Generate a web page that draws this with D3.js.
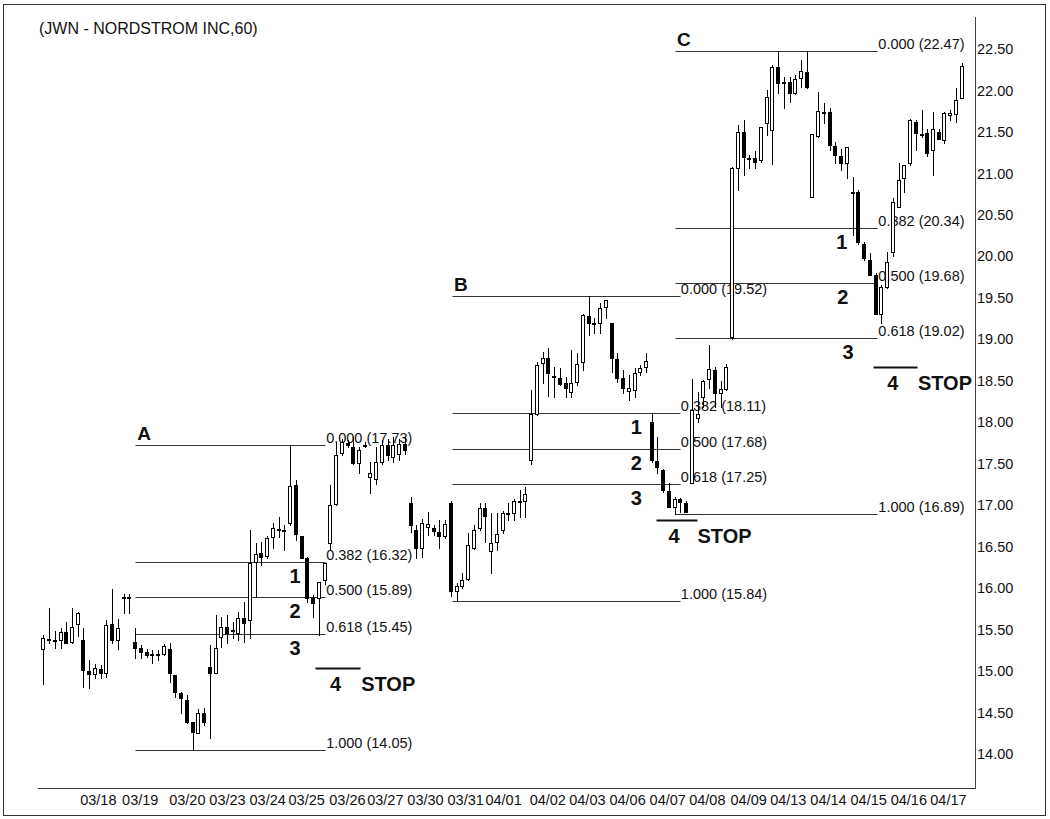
<!DOCTYPE html>
<html>
<head>
  <meta charset="UTF-8" />
  <title>JWN - Nordstrom Inc, 60 min</title>
  <style>
    body { margin: 0; background: #fff; }
    svg { display: block; font-family: "Liberation Sans", Arial, Helvetica, sans-serif; }
  </style>
  <script src="https://d3js.org/d3.v7.min.js"></script>
</head>
<body>
<script>
  /* hourly bars, [open, high, low, close] */
  let ohlc = [
    [15.27,15.43,14.84,15.40],[15.38,15.76,15.34,15.39],[15.38,15.48,15.28,15.38],[15.37,15.52,15.28,15.47],
    [15.47,15.59,15.34,15.34],[15.35,15.76,15.34,15.53],[15.57,15.71,15.42,15.70],[15.37,15.52,14.81,15.01],
    [15.00,15.13,14.80,14.96],[14.96,15.09,14.92,15.04],[15.03,15.07,14.92,14.98],[14.98,15.62,14.93,15.56],
    [15.57,15.99,15.34,15.38],[15.38,15.63,15.27,15.52],[15.88,15.93,15.70,15.89],[15.88,15.93,15.70,15.89],
    [15.35,15.52,15.16,15.28],[15.28,15.31,15.16,15.23],[15.23,15.27,15.17,15.19],[15.20,15.25,15.10,15.19],
    [15.19,15.25,15.13,15.20],[15.21,15.33,15.19,15.30],[15.27,15.34,14.87,14.98],[14.95,14.95,14.69,14.75],
    [14.74,14.75,14.49,14.68],[14.65,14.71,14.37,14.39],[14.38,14.38,14.05,14.27],[14.25,14.54,14.25,14.49],
    [14.50,14.55,14.35,14.38],[15.05,15.31,14.19,14.98],[14.98,15.68,14.98,15.28],[15.41,15.65,15.29,15.53],
    [15.53,15.68,15.34,15.46],[15.49,15.59,15.40,15.50],[15.46,15.71,15.37,15.64],[15.64,15.83,15.35,15.58],
    [15.62,16.70,15.40,16.30],[16.32,16.54,15.89,16.41],[16.42,16.56,16.28,16.38],[16.39,16.63,16.36,16.60],
    [16.62,16.79,16.48,16.72],[16.71,16.86,16.62,16.70],[16.69,16.76,16.46,16.70],[16.78,17.73,16.76,17.23],
    [17.24,17.30,16.58,16.65],[16.63,16.63,16.36,16.36],[16.36,16.38,15.83,15.88],[15.88,15.92,15.65,15.82],
    [15.88,16.07,15.43,16.07],[16.10,16.30,16.05,16.30],[16.54,17.24,16.46,17.00],[17.02,17.76,17.00,17.60],
    [17.63,17.80,17.60,17.76],[17.75,17.79,17.70,17.72],[17.70,17.82,17.50,17.51],[17.51,17.70,17.39,17.67],
    [17.72,17.76,17.70,17.73],[17.34,17.52,17.15,17.39],[17.32,17.70,17.25,17.52],[17.52,17.78,17.50,17.72],
    [17.73,17.80,17.55,17.60],[17.58,17.82,17.52,17.73],[17.62,17.80,17.55,17.74],[17.74,17.82,17.62,17.66],
    [17.03,17.10,16.68,16.76],[16.70,16.76,16.36,16.48],[16.48,16.83,16.38,16.78],[16.74,16.92,16.64,16.77],
    [16.73,16.76,16.64,16.69],[16.68,16.82,16.48,16.63],[16.63,16.82,16.60,16.77],[17.03,17.05,15.90,15.96],
    [15.96,16.06,15.84,16.03],[16.03,16.18,16.00,16.10],[16.11,16.66,16.10,16.52],[16.48,16.76,16.47,16.70],
    [16.72,17.03,16.70,16.97],[16.97,17.03,16.56,16.87],[16.45,16.91,16.18,16.55],[16.56,16.91,16.46,16.65],
    [16.70,16.93,16.66,16.91],[16.90,17.03,16.82,16.91],[16.91,17.08,16.82,17.05],[17.04,17.18,16.86,17.05],
    [17.05,17.22,16.86,17.14],[17.55,18.39,17.50,18.10],[18.10,18.73,18.09,18.69],[18.71,18.85,18.47,18.77],
    [18.77,18.90,18.32,18.59],[18.56,18.67,18.31,18.55],[18.53,18.65,18.45,18.46],[18.47,18.54,18.30,18.41],
    [18.37,18.87,18.30,18.47],[18.49,18.83,18.45,18.70],[18.73,19.30,18.63,19.29],[19.28,19.52,19.05,19.20],
    [19.20,19.26,19.08,19.19],[19.20,19.44,19.08,19.38],[19.39,19.47,19.26,19.47],[19.20,19.20,18.60,18.77],
    [18.76,18.83,18.48,18.53],[18.53,18.63,18.35,18.41],[18.38,18.57,18.27,18.41],[18.39,18.65,18.30,18.59],
    [18.61,18.69,18.57,18.65],[18.67,18.83,18.60,18.74],[18.00,18.11,17.52,17.55],[17.53,17.82,17.39,17.46],
    [17.42,17.44,17.16,17.18],[17.17,17.27,16.98,16.98],[16.98,17.10,16.89,17.08],[17.07,17.09,16.92,17.04],
    [17.03,17.05,16.92,16.92],[17.27,18.52,17.27,18.15],[18.05,18.37,18.00,18.10],[18.30,18.51,18.18,18.50],
    [18.52,18.93,18.41,18.64],[18.63,18.67,18.18,18.35],[18.35,18.50,18.18,18.40],[18.40,18.70,18.39,18.67],
    [19.03,21.08,19.00,21.07],[21.07,21.58,20.80,21.50],[21.50,21.64,20.98,21.20],[21.17,21.22,21.07,21.18],
    [21.19,21.27,21.07,21.14],[21.16,21.56,21.14,21.56],[21.61,22.00,21.46,21.92],[21.52,22.31,21.11,22.28],
    [22.28,22.47,21.97,22.09],[22.10,22.16,21.79,22.09],[22.10,22.16,21.86,21.97],[21.97,22.19,21.96,22.14],
    [22.15,22.37,22.04,22.24],[22.22,22.47,22.03,22.04],[20.72,21.48,20.71,21.48],[21.45,21.98,21.44,21.75],
    [21.74,21.85,21.61,21.74],[21.74,21.79,21.28,21.34],[21.33,21.38,21.13,21.22],[21.21,21.29,21.04,21.13],
    [21.13,21.32,20.95,21.32],[20.78,20.96,20.26,20.77],[20.78,20.80,20.15,20.17],[20.15,20.17,19.96,19.98],
    [19.96,20.04,19.78,19.78],[19.78,19.80,19.30,19.31],[19.31,19.65,19.20,19.63],[19.63,20.05,19.62,19.93],
    [20.05,20.70,20.00,20.65],[20.60,21.12,20.60,20.92],[20.95,21.10,20.77,21.10],[21.12,21.66,21.10,21.65],
    [21.62,21.64,21.28,21.49],[21.47,21.77,21.44,21.46],[21.49,21.53,21.21,21.25],[21.28,21.74,20.98,21.53],
    [21.50,21.54,21.41,21.42],[21.40,21.74,21.37,21.73],[21.71,21.77,21.65,21.73],[21.72,22.03,21.62,21.89],
    [21.91,22.33,21.91,22.30]
  ];

  let dateLabels = ["03/18", "03/19", "03/20", "03/23", "03/24", "03/25", "03/26", "03/27", "03/30", "03/31", "04/01",
    "04/02", "04/03", "04/06", "04/07", "04/08", "04/09", "04/13", "04/14", "04/15", "04/16", "04/17"];
  /* bar position under each date label */
  let datePos = [9.5, 16.8, 25, 32, 39, 45.8, 52.9, 59.5, 66.5, 73.5, 80.1,
    87.8, 94.7, 101.7, 108.7, 115.6, 122.8, 129.7, 136.7, 143.7, 150.7, 157.6];
  let priceTicks = d3.range(14, 22.51, 0.5);

  /* fibonacci retracements: levels as printed on the chart, bar span of the lines */
  let fibNames = ["A", "B", "C"];
  let fibRatios = [0, 0.382, 0.5, 0.618, 1];
  let fibLevelsA = [17.73, 16.32, 15.89, 15.45, 14.05];
  let fibLevelsB = [19.52, 18.11, 17.68, 17.25, 15.84];
  let fibLevelsC = [22.47, 20.34, 19.68, 19.02, 16.89];
  let fibFrom = [16, 71.2, 110.05];
  let fibTo = [49.1, 110.9, 145.3];

  /* "1 2 3" marks under the 0.382 / 0.5 / 0.618 lines, bar position per set */
  let markText = ["1", "2", "3"];
  let markPos = [[43.85, 43.85, 43.85], [103.3, 103.3, 103.3], [139.1, 139.3, 140.2]];

  /* "4 STOP" levels */
  let stopPrice = [15.04, 16.82, 18.67];
  let stopFrom = [47.3, 106.7, 144.5];
  let stopTo = [55.2, 113.8, 152.2];

  let title = "(JWN - NORDSTROM INC,60)";

  let W = 1050, H = 819;
  let svg = d3.select("body").append("svg").attr("width", W).attr("height", H);

  let x = d3.scaleLinear().domain([0, ohlc.length - 1]).range([43.3, 961.7]);
  let y = d3.scaleLinear().domain([14, 22.5]).range([754, 49]);
  let px = v => Math.round(x(v)) + 0.5;
  let py = v => Math.round(y(v)) + 0.5;

  /* frame */
  svg.append("rect")
    .attr("x", 3.5).attr("y", 4.5).attr("width", 1042).attr("height", 811)
    .attr("fill", "none").attr("stroke", "#333");

  svg.append("text")
    .attr("x", 39).attr("y", 34)
    .attr("font-size", 16).attr("fill", "#111")
    .text(title);

  /* axes */
  svg.append("line")
    .attr("x1", 975.5).attr("x2", 975.5).attr("y1", 17).attr("y2", 788.5)
    .attr("stroke", "#444");
  svg.append("line")
    .attr("x1", 38).attr("x2", 975.5).attr("y1", 788.5).attr("y2", 788.5)
    .attr("stroke", "#333");

  let yAxis = svg.append("g")
    .attr("transform", "translate(975,0)")
    .call(d3.axisRight(y).tickValues(priceTicks).tickSize(0).tickPadding(2).tickFormat(d3.format(".2f")));
  yAxis.select(".domain").remove();
  yAxis.selectAll("text").attr("font-size", 14.5).attr("font-family", null).attr("fill", "#111");

  let xAxis = svg.append("g")
    .attr("transform", "translate(0,788)")
    .call(d3.axisBottom(x).tickValues(datePos).tickSize(0).tickFormat((d, i) => dateLabels[i]));
  xAxis.select(".domain").remove();
  xAxis.selectAll("text").attr("font-size", 14.5).attr("font-family", null)
    .attr("fill", "#111").attr("dy", null).attr("y", 17);

  /* fib lines and labels */
  let fibs = svg.append("g");
  [fibLevelsA, fibLevelsB, fibLevelsC].forEach((levels, s) => {
    levels.forEach((level, k) => {
      fibs.append("line")
        .attr("x1", px(fibFrom[s])).attr("x2", px(fibTo[s]))
        .attr("y1", py(level)).attr("y2", py(level))
        .attr("stroke", "#333");
      fibs.append("text")
        .attr("x", x(fibTo[s]) + 1).attr("y", y(level) - 2)
        .attr("font-size", 14.5).attr("fill", "#111")
        .text(`${fibRatios[k].toFixed(3)} (${level.toFixed(2)})`);
    });
    fibs.append("text")
      .attr("x", x(fibFrom[s]) + 2).attr("y", y(levels[0]) - 5)
      .attr("font-size", 19).attr("font-weight", "bold").attr("fill", "#111")
      .text(fibNames[s]);

    levels.slice(1, 4).forEach((level, k) => {
      fibs.append("text")
        .attr("x", x(markPos[s][k])).attr("y", y(level) + 21)
        .attr("text-anchor", "middle")
        .attr("font-size", 20).attr("font-weight", "bold").attr("fill", "#111")
        .text(markText[k]);
    });

    let sy = py(stopPrice[s]);
    fibs.append("line")
      .attr("x1", px(stopFrom[s])).attr("x2", px(stopTo[s]))
      .attr("y1", sy).attr("y2", sy)
      .attr("stroke", "#111").attr("stroke-width", 2);
    fibs.append("text")
      .attr("x", x((stopFrom[s] + stopTo[s]) / 2) - 2).attr("y", y(stopPrice[s]) + 23)
      .attr("text-anchor", "middle")
      .attr("font-size", 20).attr("font-weight", "bold").attr("fill", "#111")
      .text("4");
    fibs.append("text")
      .attr("x", x(stopTo[s]) + 1).attr("y", y(stopPrice[s]) + 23)
      .attr("font-size", 20).attr("font-weight", "bold").attr("fill", "#111")
      .text("STOP");
  });

  /* candles */
  let candles = svg.append("g")
    .selectAll("g")
    .data(ohlc)
    .enter()
    .append("g");

  candles.append("line")
    .attr("x1", (d, i) => px(i)).attr("x2", (d, i) => px(i))
    .attr("y1", d => Math.round(y(d[1]))).attr("y2", d => Math.round(y(d[2])) + 1)
    .attr("stroke", "#000");

  candles.append("rect")
    .attr("x", (d, i) => Math.round(x(i)) - 1.5)
    .attr("width", 3)
    .attr("y", d => Math.round(y(Math.max(d[0], d[3]))) + 0.5)
    .attr("height", d => Math.max(1, Math.round(y(Math.min(d[0], d[3]))) - Math.round(y(Math.max(d[0], d[3])))))
    .attr("fill", d => d[3] >= d[0] ? "#fff" : "#000")
    .attr("stroke", "#000");
</script>
</body>
</html>
